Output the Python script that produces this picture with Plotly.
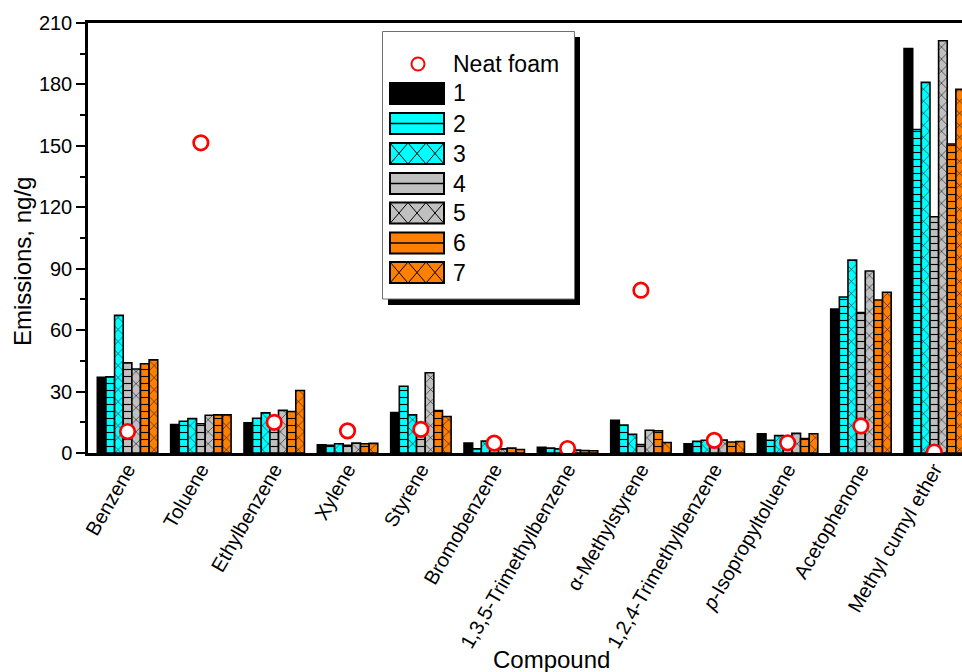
import plotly.graph_objects as go

# ---------------- data ----------------
compounds = ["Benzene", "Toluene", "Ethylbenzene", "Xylene", "Styrene", "Bromobenzene",
             "1,3,5-Trimethylbenzene", "α-Methylstyrene", "1,2,4-Trimethylbenzene",
             "p-Isopropyltoluene", "Acetophenone", "Methyl cumyl ether"]
tick_text = ["Benzene", "Toluene", "Ethylbenzene", "Xylene", "Styrene", "Bromobenzene",
             "1,3,5-Trimethylbenzene", "α-Methylstyrene", "1,2,4-Trimethylbenzene",
             "<i>p</i>-Isopropyltoluene", "Acetophenone", "Methyl cumyl ether"]

neat_foam = [10.5, 151.5, 15.0, 10.8, 11.5, 4.8, 2.2, 79.5, 6.2, 5.0, 13.2, 0.5]

s1 = [37.0, 13.9, 14.8, 4.0, 19.8, 4.9, 2.8, 16.0, 4.5, 9.4, 70.3, 197.5]
s2 = [37.2, 15.5, 17.0, 3.8, 32.6, 2.0, 2.4, 13.6, 5.7, 6.2, 76.2, 158.0]
s3 = [67.2, 16.8, 19.6, 4.5, 18.6, 5.8, 2.0, 9.1, 6.2, 8.5, 94.2, 181.0]
s4 = [44.0, 14.3, 16.5, 3.8, 14.0, 1.8, 1.0, 4.1, 5.0, 8.0, 68.6, 115.4]
s5 = [41.0, 18.4, 20.8, 4.8, 39.2, 2.0, 1.4, 11.1, 6.3, 9.6, 88.9, 201.3]
s6 = [43.6, 18.6, 20.3, 4.5, 20.7, 2.4, 1.2, 10.9, 5.4, 7.0, 74.7, 150.9]
s7 = [45.5, 18.6, 30.5, 4.7, 17.8, 1.7, 1.1, 5.1, 5.6, 9.4, 78.5, 177.6]

series_names = ["1", "2", "3", "4", "5", "6", "7"]
series_values = [s1, s2, s3, s4, s5, s6, s7]
series_colors = ["#000000", "#00FFFF", "#00FFFF", "#C0C0C0", "#C0C0C0", "#FF8000", "#FF8000"]
series_patterns = ["", "-", "x", "-", "x", "-", "x"]

y_ticks = [0, 30, 60, 90, 120, 150, 180, 210]

FONT = "Liberation Sans, Arial, sans-serif"

fig = go.Figure()
for name, vals, col, pat in zip(series_names, series_values, series_colors, series_patterns):
    pattern = dict(shape=pat, fgcolor="black", bgcolor=col, fillmode="replace",
                   size=7 if pat == "-" else 8.5, solidity=0.16 if pat == "-" else 0.12)
    fig.add_trace(go.Bar(
        x=compounds, y=vals, name=name, showlegend=False,
        marker=dict(color=col, line=dict(color="black", width=1.6), pattern=pattern),
    ))

fig.add_trace(go.Scatter(
    x=compounds, y=neat_foam, mode="markers", name="Neat foam", showlegend=False,
    marker=dict(symbol="circle", size=14.5, color="white", line=dict(color="#FF0000", width=2.7)),
))

# ---------------- layout geometry ----------------
W, H = 962, 672
ML, MT = 88, 23
PW = W - ML          # plot width (right margin 0, chart is cut at the right edge)
PH = 430
MB = H - MT - PH


def px(x):
    return (x - ML) / PW


def py(y):
    return (MT + PH - y) / PH


shapes = []
# legend shadow + box
shapes.append(dict(type="rect", xref="paper", yref="paper", x0=px(388), x1=px(580), y0=py(305), y1=py(37),
                   fillcolor="black", line=dict(width=0), layer="above"))
shapes.append(dict(type="rect", xref="paper", yref="paper", x0=px(382.5), x1=px(574.5), y0=py(299), y1=py(31.5),
                   fillcolor="white", line=dict(color="#707070", width=1), layer="above"))

legend_rows = [64, 93.5, 123.5, 153.5, 183.5, 213, 243, 272.5]
lx0, lx1 = 390, 444
lh = 10.5
for i, (name, col, pat) in enumerate(zip(series_names, series_colors, series_patterns)):
    cy = legend_rows[i + 1]
    y0, y1 = cy - lh, cy + lh
    shapes.append(dict(type="rect", xref="paper", yref="paper", x0=px(lx0), x1=px(lx1), y0=py(y1), y1=py(y0),
                       fillcolor=col, line=dict(color="black", width=2), layer="above"))
    if pat == "-":
        shapes.append(dict(type="line", xref="paper", yref="paper", x0=px(lx0), x1=px(lx1), y0=py(cy), y1=py(cy),
                           line=dict(color="black", width=1.3), layer="above"))
    elif pat == "x":
        step = (lx1 - lx0) / 3
        for k in range(3):
            a = lx0 + k * step
            b = a + step
            shapes.append(dict(type="line", xref="paper", yref="paper", x0=px(a), x1=px(b), y0=py(y0), y1=py(y1),
                               line=dict(color="black", width=1), layer="above"))
            shapes.append(dict(type="line", xref="paper", yref="paper", x0=px(b), x1=px(a), y0=py(y0), y1=py(y1),
                               line=dict(color="black", width=1), layer="above"))
# neat foam legend symbol
shapes.append(dict(type="circle", xref="paper", yref="paper", x0=px(411.5), x1=px(424.5),
                   y0=py(legend_rows[0] + 6.5), y1=py(legend_rows[0] - 6.5),
                   fillcolor="white", line=dict(color="#FF0000", width=2), layer="above"))

annotations = []
for lab, cy in zip(["Neat foam"] + series_names, legend_rows):
    annotations.append(dict(xref="paper", yref="paper", x=px(451), y=py(cy), text=lab, showarrow=False,
                            xanchor="left", yanchor="middle", font=dict(family=FONT, size=23, color="black")))

# axis titles
annotations.append(dict(xref="paper", yref="paper", x=px(551), y=py(659), text="Compound", showarrow=False,
                        xanchor="center", yanchor="middle", font=dict(family=FONT, size=24, color="black")))
annotations.append(dict(xref="paper", yref="paper", x=px(22), y=py(262), text="Emissions, ng/g", showarrow=False,
                        textangle=-90, xanchor="center", yanchor="middle",
                        font=dict(family=FONT, size=24, color="black")))

fig.update_layout(
    width=W, height=H,
    margin=dict(l=ML, r=0, t=MT, b=MB, autoexpand=False),
    paper_bgcolor="white", plot_bgcolor="white",
    barmode="group", bargap=0.176, bargroupgap=0,
    font=dict(family=FONT, color="black"),
    showlegend=False,
    shapes=shapes, annotations=annotations,
)

fig.update_xaxes(
    type="category", range=[-0.539, 11.378],
    tickvals=compounds, ticktext=tick_text, tickangle=-60,
    tickfont=dict(family=FONT, size=20, color="black"), ticklabelstandoff=-6,
    ticks="", showline=True, linecolor="black", linewidth=2.5, mirror=True,
    showgrid=False, zeroline=False,
)
fig.update_yaxes(
    range=[0, 210], tickvals=y_ticks, ticks="outside", ticklen=9, tickwidth=2, tickcolor="black",
    minor=dict(dtick=15, tick0=0, ticks="outside", ticklen=5, tickwidth=2, tickcolor="black"),
    tickfont=dict(family=FONT, size=20, color="black"),
    showline=True, linecolor="black", linewidth=2.5, mirror=False,
    showgrid=False, zeroline=False,
)

fig.write_html(
    "out.html",
    config={"displayModeBar": False},
    post_script="document.body.style.margin='0';document.body.style.overflow='hidden';",
)
